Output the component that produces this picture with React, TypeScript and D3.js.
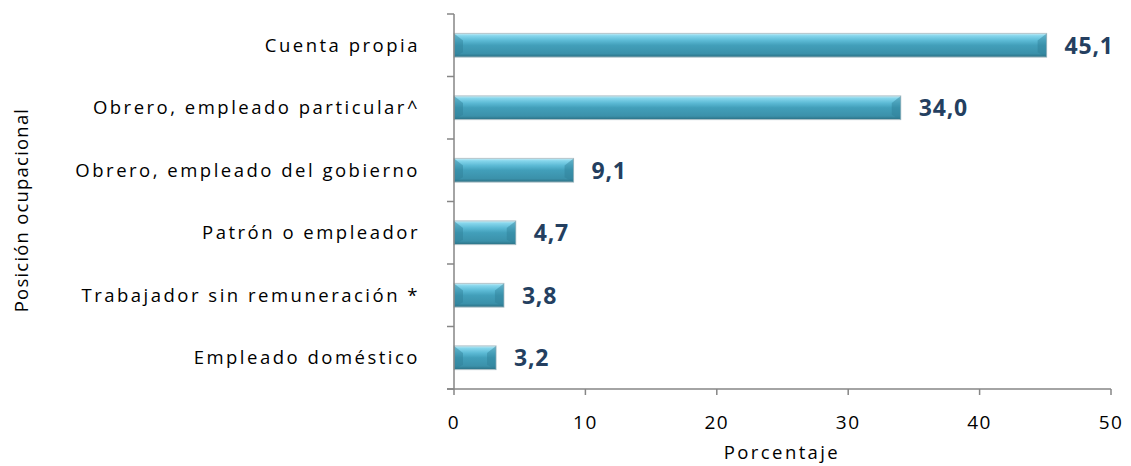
import React from "react";
import * as d3 from "d3";

const categories = [
  "Cuenta propia",
  "Obrero, empleado particular^",
  "Obrero, empleado del gobierno",
  "Patrón o empleador",
  "Trabajador sin remuneración *",
  "Empleado doméstico",
];
const values = [45.1, 34.0, 9.1, 4.7, 3.8, 3.2];
const xTicks = [0, 10, 20, 30, 40, 50];

const W = 1131;
const H = 466;
const M = { left: 454, right: 20, top: 14, bottom: 77 };

export default function App() {
  const x = d3.scaleLinear().domain([0, 50]).range([M.left, W - M.right]);
  const y = d3
    .scaleBand<string>()
    .domain(categories)
    .range([M.top, H - M.bottom])
    .paddingInner(0.62)
    .paddingOuter(0.31);
  const step = y.step();
  const boundaries = d3.range(categories.length + 1).map((i) => M.top + i * step);
  const y0 = H - M.bottom;
  const font = "'Open Sans', 'DejaVu Sans', sans-serif";

  return (
    <svg width={W} height={H} style={{ position: "absolute", left: 0, top: 0 }}>
      <defs>
        <linearGradient id="barGrad" x1="0" y1="0" x2="0" y2="1">
          <stop offset="0" stopColor="#c8ecf5" />
          <stop offset="0.1" stopColor="#86d6ec" />
          <stop offset="0.3" stopColor="#5cbad5" />
          <stop offset="0.5" stopColor="#429fba" />
          <stop offset="0.85" stopColor="#3b91aa" />
          <stop offset="1" stopColor="#2b6f83" />
        </linearGradient>
      </defs>
      <rect width={W} height={H} fill="#fff" />
      {categories.map((c, i) => {
        const by = y(c)!;
        const bh = y.bandwidth();
        const bx = x(0);
        const bw = x(values[i]) - x(0);
        const bev = Math.min(9, bw / 3);
        return (
          <g key={c}>
            <rect x={bx} y={by} width={bw} height={bh} fill="url(#barGrad)" stroke="#b3c4ca" strokeWidth={1} />
            <polygon
              points={`${bx},${by} ${bx + bev},${by + 7} ${bx + bev},${by + bh - 5} ${bx},${by + bh}`}
              fill="#2f7f96"
              opacity={0.45}
            />
            <polygon
              points={`${bx + bw},${by} ${bx + bw - bev},${by + 7} ${bx + bw - bev},${by + bh - 5} ${bx + bw},${by + bh}`}
              fill="#2f7f96"
              opacity={0.45}
            />
            <text
              x={x(values[i]) + 18}
              y={by + bh / 2}
              dy="0.36em"
              fontFamily={font}
              fontWeight="bold"
              fontSize={23}
              letterSpacing={0.8}
              fill="#243f60"
            >
              {values[i].toFixed(1).replace(".", ",")}
            </text>
            <text
              x={420}
              y={by + bh / 2}
              dy="0.36em"
              textAnchor="end"
              fontFamily={font}
              fontSize={18.5}
              letterSpacing={2.5}
              fill="#000"
            >
              {c}
            </text>
          </g>
        );
      })}
      <line x1={x(0)} x2={x(0)} y1={M.top} y2={y0} stroke="#868686" strokeWidth={1.5} />
      {boundaries.map((b, i) => (
        <line key={i} x1={x(0) - 7} x2={x(0)} y1={b} y2={b} stroke="#868686" strokeWidth={1.5} />
      ))}
      <line x1={x(0) - 7} x2={x(50)} y1={y0} y2={y0} stroke="#868686" strokeWidth={1.5} />
      {xTicks.map((t) => (
        <g key={t}>
          <line x1={x(t)} x2={x(t)} y1={y0} y2={y0 + 6} stroke="#868686" strokeWidth={1.5} />
          <text x={x(t)} y={422} dy="0.36em" textAnchor="middle" fontFamily={font} fontSize={19} letterSpacing={1.5} fill="#000">
            {t}
          </text>
        </g>
      ))}
      <text x={782} y={452} dy="0.36em" textAnchor="middle" fontFamily={font} fontSize={18.5} letterSpacing={2.4} fill="#000">
        Porcentaje
      </text>
      <text
        transform={`translate(21, 210) rotate(-90)`}
        dy="0.36em"
        textAnchor="middle"
        fontFamily={font}
        fontSize={18.5}
        letterSpacing={1.2}
        fill="#000"
      >
        Posición ocupacional
      </text>
    </svg>
  );
}
